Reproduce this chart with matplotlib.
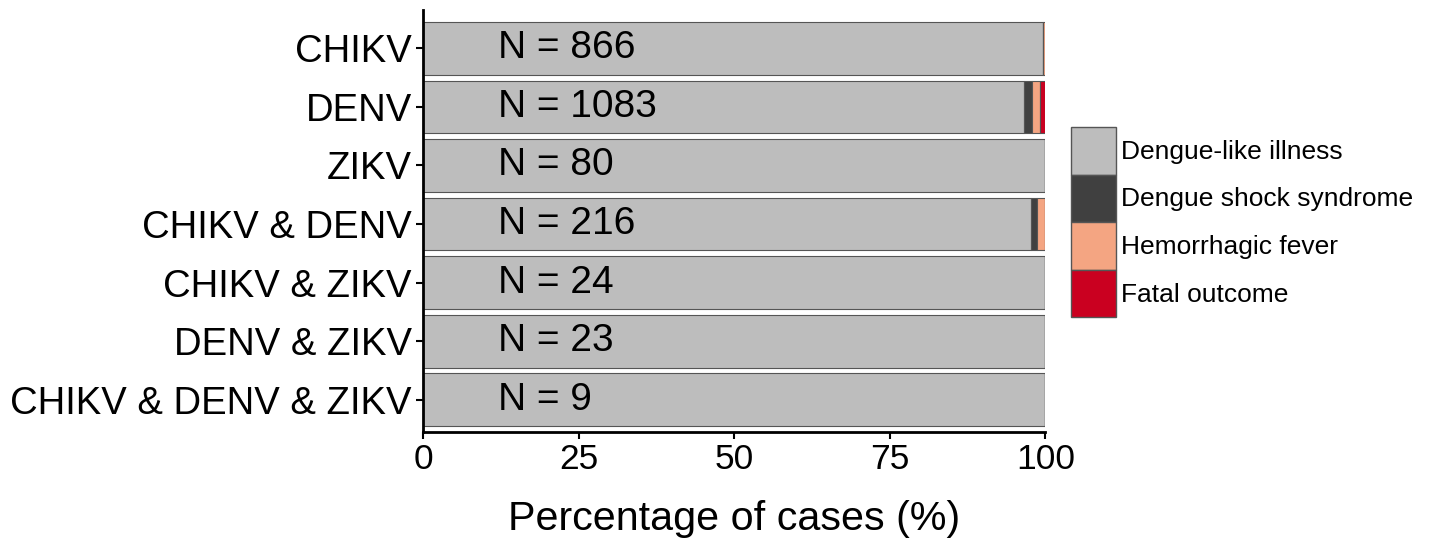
import matplotlib.pyplot as plt
import numpy as np
from matplotlib.patches import Patch

plt.rcParams['font.family'] = ['Liberation Sans', 'DejaVu Sans']

groups = ['CHIKV', 'DENV', 'ZIKV', 'CHIKV & DENV', 'CHIKV & ZIKV',
          'DENV & ZIKV', 'CHIKV & DENV & ZIKV']
n_cases = [866, 1083, 80, 216, 24, 23, 9]
outcomes = ['Dengue-like illness', 'Dengue shock syndrome',
            'Hemorrhagic fever', 'Fatal outcome']
# percentage of cases per outcome, rows follow groups
dengue_like = [99.6, 96.5, 100, 97.7, 100, 100, 100]
shock = [0.0, 1.3, 0, 0.9, 0, 0, 0]
hemorrhagic = [0.3, 1.4, 0, 1.4, 0, 0, 0]
fatal = [0.1, 0.8, 0, 0.0, 0, 0, 0]
colors = ['#bdbdbd', '#404040', '#f4a582', '#ca0020']

fig = plt.figure(figsize=(14.44, 5.4), dpi=100)
ax = fig.add_axes([0.293, 0.2, 0.431, 0.781])

y = np.arange(len(groups))
left = np.zeros(len(groups))
for vals, col, lab in zip([dengue_like, shock, hemorrhagic, fatal], colors, outcomes):
    vals = np.array(vals, dtype=float)
    ax.barh(y, vals, left=left, height=0.9, color=col, edgecolor='#555555',
            linewidth=0.8, label=lab)
    left += vals

for yi, n in zip(y, n_cases):
    ax.text(12.0, yi, f'N = {n}', fontsize=28, va='center', ha='left')

ax.set_yticks(y)
ax.set_yticklabels(groups, fontsize=27.5)
ax.set_ylim(6.55, -0.65)
ax.set_xlim(0, 100)
ax.set_xticks([0, 25, 50, 75, 100])
ax.tick_params(axis='x', labelsize=25.5, length=5, width=1.5, pad=3)
ax.tick_params(axis='y', length=5, width=1.5, pad=3)
ax.set_xlabel('Percentage of cases (%)', fontsize=29.7, labelpad=17)

for s in ['top', 'right']:
    ax.spines[s].set_visible(False)
for s in ['left', 'bottom']:
    ax.spines[s].set_linewidth(2)

handles = [Patch(facecolor=c, edgecolor='#555555', label=l) for c, l in zip(colors, outcomes)]
fig.legend(handles=handles, loc='upper left', bbox_to_anchor=(0.742, 0.765),
           frameon=False, fontsize=19, handlelength=1.7, handleheight=2.4,
           handletextpad=0.19, labelspacing=0.0, borderaxespad=0, borderpad=0)

plt.savefig('out.png', dpi=100)
plt.close()
